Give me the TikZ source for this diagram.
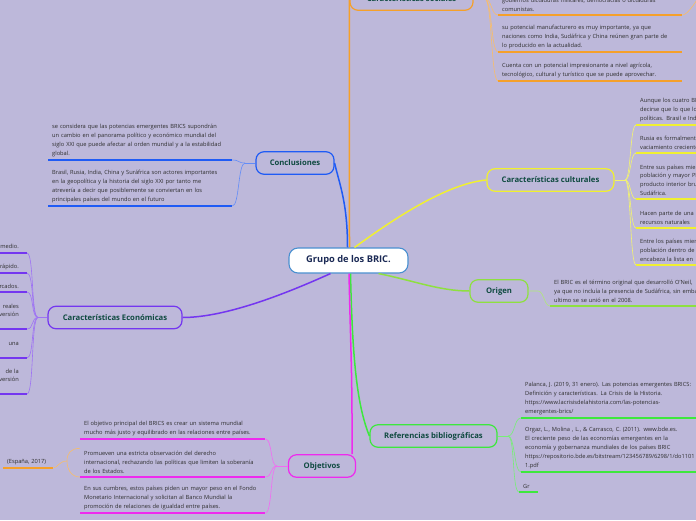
\documentclass[tikz,border=0pt]{standalone}
\usepackage{fontspec}
\setmainfont{Open Sans}
\usetikzlibrary{positioning}

\definecolor{bgCol}{HTML}{BDB8DA}
\definecolor{headText}{HTML}{0F4A40}
\definecolor{rootLine}{HTML}{4A90D0}
\definecolor{rootText}{HTML}{1B2A55}
\definecolor{itemText}{HTML}{2E2E2E}
\definecolor{socOrange}{HTML}{F5A02A}
\definecolor{concBlue}{HTML}{1F5BF5}
\definecolor{cultYellow}{HTML}{F0F030}
\definecolor{origGreen}{HTML}{8EE040}
\definecolor{refGreen}{HTML}{3DE83D}
\definecolor{objPink}{HTML}{EE2AEE}
\definecolor{econPurple}{HTML}{7436F0}

\begin{document}
\begin{tikzpicture}[
  x=1pt, y=-1pt,
  every node/.style={font=\fontsize{5.7}{8.9}\selectfont, text=itemText},
  root/.style={draw=rootLine, line width=1.1pt, fill=white, rounded corners=9pt, minimum width=119pt, minimum height=25pt, font=\fontsize{9.3}{11}\selectfont\bfseries, text=rootText},
  topic/.style={draw=#1, line width=1.2pt, fill=bgCol, rounded corners=8pt, minimum height=22.5pt, font=\fontsize{7.7}{9}\selectfont\bfseries, text=headText},
  blurb/.style={anchor=south west, inner xsep=4pt, inner ysep=3pt, align=left, text width=#1},
  branch/.style={draw=#1, line width=1.5pt},
  twig/.style={draw=#1!70!white, line width=0.6pt},
  uline/.style={draw=#1, line width=1.5pt}
]
  \fill[bgCol] (0,0) rectangle (696,520);
  \useasboundingbox (0,0) rectangle (696,520);

  % centre and main topics
  \node[root] (root) at (348.5,260.5) {Grupo de los BRIC.};
  \node[topic=socOrange, minimum width=123pt] (social) at (411.5,-1) {Características sociales};
  \node[topic=concBlue, minimum width=78pt] (concl) at (295,163) {Conclusiones};
  \node[topic=cultYellow, minimum width=127pt] (cultural) at (550.5,180) {Características culturales};
  \node[topic=origGreen, minimum width=58pt] (origen) at (499,291) {Origen};
  \node[topic=refGreen, minimum width=127pt] (refs) at (433.5,436) {Referencias bibliográficas};
  \node[topic=objPink, minimum width=67pt] (objet) at (322,466) {Objetivos};
  \node[topic=econPurple, minimum width=134pt] (econ) at (115,317.5) {Características Económicas};

  % sociales
  \node[blurb=176pt] (s1) at (498,15) {gobiernos dictaduras militares, democracias o dictaduras\\comunistas.};
  \node[blurb=176pt] (s2) at (498,52) {su potencial manufacturero es muy importante, ya que\\naciones como India, Sudáfrica y China reúnen gran parte de\\lo producido en la actualidad.};
  \node[blurb=176pt] (s3) at (498,81) {Cuenta con un potencial impresionante a nivel agrícola,\\tecnológico, cultural y turístico que se puede aprovechar.};
  \coordinate (sj) at (485,-1);
  \coordinate (s1x) at (702,-8);

  % conclusiones
  \node[blurb=176pt] (c1) at (48,160) {se considera que las potencias emergentes BRICS supondrán\\un cambio en el panorama político y económico mundial del\\siglo XXI que puede afectar al orden mundial y a la estabilidad\\global.};
  \node[blurb=176pt] (c2) at (48,206) {Brasil, Rusia, India, China y Suráfrica son actores importantes\\en la geopolítica y la historia del siglo XXI por tanto me\\atrevería a decir que posiblemente se conviertan en los\\principales países del mundo en el futuro};
  \coordinate (cj) at (245,163);

  % culturales
  \node[blurb=150pt] (u1) at (636,125) {Aunque los cuatro BRIC\\decirse que lo que los\\políticas. Brasil e India};
  \node[blurb=150pt] (u2) at (636,153) {Rusia es formalmente\\vaciamiento creciente};
  \node[blurb=150pt] (u3) at (636,199) {Entre sus países miembros\\población y mayor PIB\\producto interior bruto\\Sudáfrica.};
  \node[blurb=150pt] (u4) at (636,228) {Hacen parte de una\\recursos naturales};
  \node[blurb=150pt] (u5) at (636,265) {Entre los países miembros\\población dentro de\\encabeza la lista en};
  \coordinate (uj) at (625,180);

  % origen
  \node[blurb=200pt] (o1) at (550,306) {El BRIC es el término original que desarrolló O'Neil,\\ya que no incluía la presencia de Sudáfrica, sin embargo\\ultimo se se unió en el 2008.};
  \coordinate (oj) at (538,291);

  % referencias
  \node[blurb=200pt] (r1) at (521,418) {Palanca, J. (2019, 31 enero). Las potencias emergentes BRICS:\\Definición y características. La Crisis de la Historia.\\https://www.lacrisisdelahistoria.com/las-potencias-\\emergentes-brics/};
  \node[blurb=200pt] (r2) at (521,472) {Orgaz, L., Molina , L., \& Carrasco, C. (2011). www.bde.es.\\El creciente peso de las economías emergentes en la\\economía y gobernanza mundiales de los países BRIC\\https://repositorio.bde.es/bitstream/123456789/6298/1/do1101\\1.pdf};
  \node[blurb=11pt] (r3) at (519,492) {Gr};
  \coordinate (rj) at (508,436);

  % objetivos
  \node[blurb=177pt] (b1) at (80,439) {El objetivo principal del BRICS es crear un sistema mundial\\mucho más justo y equilibrado en las relaciones entre países.};
  \node[blurb=177pt] (b2) at (80,477) {Promueven una estricta observación del derecho\\internacional, rechazando las políticas que limiten la soberanía\\de los Estados.};
  \node[blurb=177pt] (b3) at (80,513) {En sus cumbres, estos países piden un mayor peso en el Fondo\\Monetario Internacional y solicitan al Banco Mundial la\\promoción de relaciones de igualdad entre países.};
  \node[blurb=42pt] (esp) at (3,468) {(España, 2017)};
  \coordinate (bj) at (277,466);
  \coordinate (bk) at (67,461);

  % economicas
  \node[blurb=100pt, anchor=south east, inner xsep=8pt, align=right] (e1) at (27,253) {promedio.};
  \node[blurb=100pt, anchor=south east, inner xsep=8pt, align=right] (e2) at (27,273) {rápido.};
  \node[blurb=100pt, anchor=south east, inner xsep=8pt, align=right] (e3) at (27,292) {mercados.};
  \node[blurb=100pt, anchor=south east, inner xsep=8pt, align=right] (e4) at (27,329) {reales\\inversión\\\mbox{}};
  \node[blurb=100pt, anchor=south east, inner xsep=8pt, align=right] (e5) at (27,358) {una\\\mbox{}};
  \node[blurb=100pt, anchor=south east, inner xsep=8pt, align=right] (e6) at (27,394) {de la\\inversión\\\mbox{}};
  \coordinate (ej) at (38,317.5);

  % branches from the centre
  \draw[branch=socOrange] ([xshift=1pt]root.north) -- (social.west);
  \draw[branch=concBlue] ([xshift=-1pt]root.north) .. controls +(0,-45) and +(5,22) .. (concl.east);
  \draw[branch=cultYellow] ([xshift=6pt]root.north) .. controls +(25,-18) and +(-45,4) .. (cultural.west);
  \draw[branch=origGreen] ([xshift=30pt]root.south) .. controls +(35,7) and +(-30,0) .. (origen.west);
  \draw[branch=refGreen] ([xshift=2pt]root.south) .. controls +(2,90) and +(-12,-30) .. (refs.west);
  \draw[branch=objPink] ([xshift=0.5pt]root.south) .. controls +(2,90) and +(0,-90) .. ([xshift=-4pt]objet.north east);
  \draw[branch=econPurple] ([xshift=-18pt]root.south) .. controls +(-40,18) and +(45,0) .. (econ.east);

  % twigs to the notes
  \draw[twig=socOrange] (social.east) -- (sj);
  \foreach \n in {s1,s2,s3}
    \draw[twig=socOrange] (sj) .. controls +(7,0) and +(-7,0) .. (\n.south west);
  \draw[twig=socOrange] (s1.south east) .. controls +(6,0) and +(-4,6) .. (s1x);
  \draw[twig=concBlue] (concl.west) -- (cj);
  \foreach \n in {c1,c2}
    \draw[twig=concBlue] (cj) .. controls +(-7,0) and +(7,0) .. (\n.south east);
  \draw[twig=cultYellow] (cultural.east) -- (uj);
  \foreach \n in {u1,u2,u3,u4,u5}
    \draw[twig=cultYellow] (uj) .. controls +(6,0) and +(-6,0) .. (\n.south west);
  \draw[twig=origGreen] (origen.east) -- (oj) .. controls +(6,0) and +(-6,0) .. (o1.south west);
  \draw[twig=refGreen] (refs.east) -- (rj);
  \foreach \n in {r1,r2,r3}
    \draw[twig=refGreen] (rj) .. controls +(7,0) and +(-7,0) .. (\n.south west);
  \draw[twig=objPink] (objet.west) -- (bj);
  \foreach \n in {b1,b2,b3}
    \draw[twig=objPink] (bj) .. controls +(-7,0) and +(7,0) .. (\n.south east);
  \draw[twig=socOrange] (b2.north west) .. controls +(-9,0) and +(0,-8) .. (bk) .. controls +(0,8) and +(-9,0) .. (b2.south west);
  \draw[twig=socOrange] (bk) .. controls +(-8,0) and +(4,0) .. (esp.south east);
  \draw[twig=econPurple] (econ.west) -- (ej);
  \foreach \n in {e1,e2,e3,e4,e5,e6}
    \draw[twig=econPurple] (ej) .. controls +(-7,0) and +(7,0) .. (\n.south east);

  % underlines
  \foreach \n/\c in {s1/socOrange,s2/socOrange,s3/socOrange,c1/concBlue,c2/concBlue,
      u1/cultYellow,u2/cultYellow,u3/cultYellow,u4/cultYellow,u5/cultYellow,o1/origGreen,
      r1/refGreen,r2/refGreen,r3/refGreen,b1/objPink,b2/objPink,b3/objPink,esp/socOrange,
      e1/econPurple,e2/econPurple,e3/econPurple,e4/econPurple,e5/econPurple,e6/econPurple}
    \draw[uline=\c] (\n.south west) -- (\n.south east);
\end{tikzpicture}
\end{document}
